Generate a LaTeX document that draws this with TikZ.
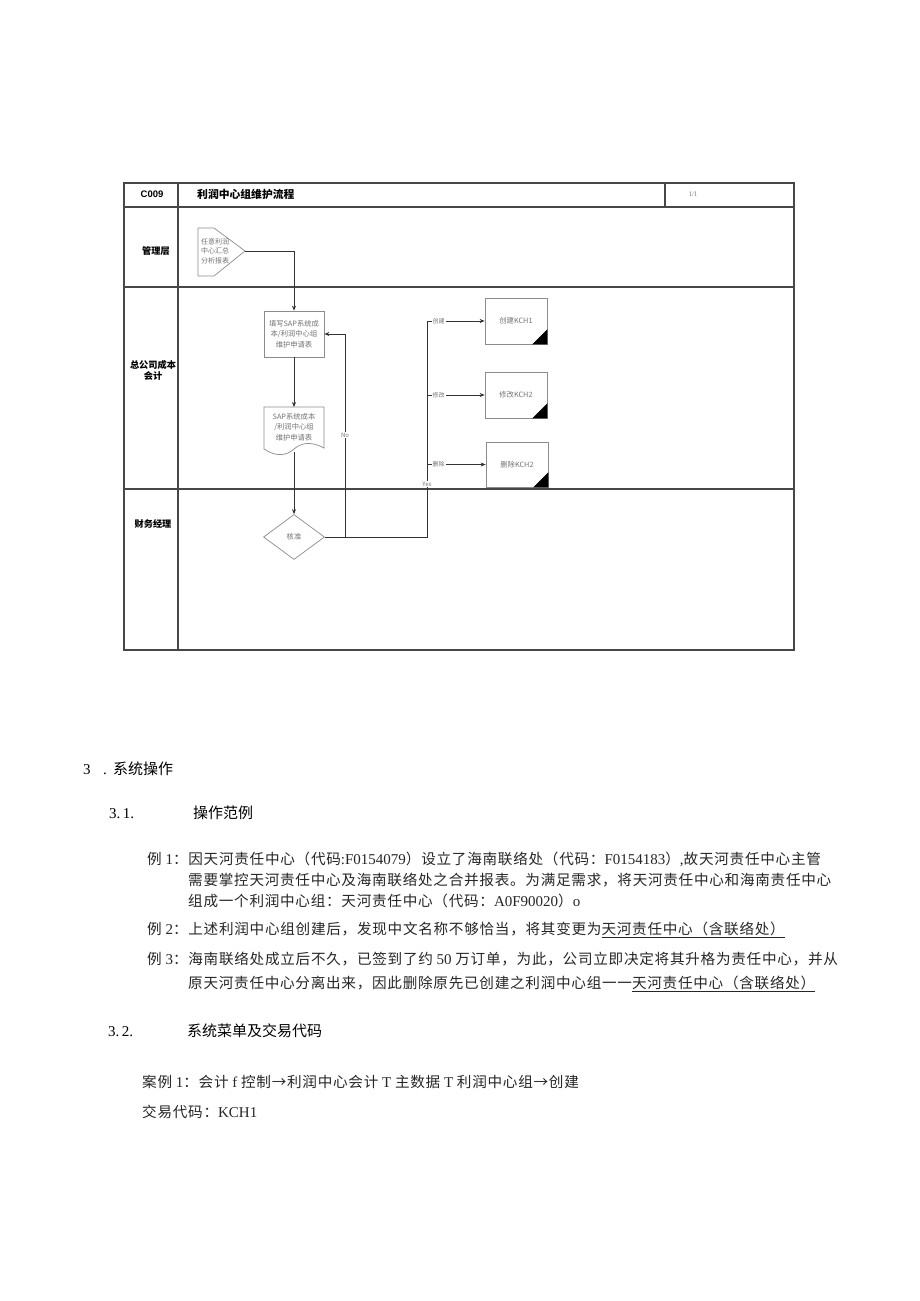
\documentclass[tikz,border=0pt]{standalone}
\usepackage{fontspec}
\setmainfont{Liberation Serif}
\newfontfamily\cjk{Noto Sans CJK SC}
\newfontfamily\cjkbody[LetterSpace=5]{Noto Sans CJK SC}
\newfontfamily\latf{Liberation Serif}
\newfontfamily\latsans{Liberation Sans}
\newcommand\ltn[1]{{\latf\fontsize{15}{17}\selectfont #1}}
\usetikzlibrary{shapes.geometric,arrows.meta}
\tikzset{
  frameline/.style={draw=black!72, line width=1.1pt},
  lanelbl/.style={font=\cjk\bfseries\fontsize{9.2}{11}\selectfont, align=center, text=black},
  shapeline/.style={draw=black!45, line width=0.7pt},
  proc/.style={shapeline, minimum width=60pt, minimum height=46pt, inner sep=1pt,
     font=\cjk\fontsize{7.3}{10.3}\selectfont, text=black!55, align=center},
  kbox/.style={proc, minimum width=62pt, minimum height=46pt},
  smalltxt/.style={font=\cjk\fontsize{7}{9.6}\selectfont, text=black!55, align=center, inner sep=0pt},
  conn/.style={draw=black!80, line width=0.8pt},
  arr/.style={conn, -{Stealth[length=5pt,width=4pt]}},
  tag/.style={font=\cjk\fontsize{6}{7}\selectfont, text=black!55, fill=white, inner sep=1pt},
  body/.style={font=\cjkbody\fontsize{14.6}{17}\selectfont, anchor=base west, inner sep=0pt, text=black!85},
  head/.style={font=\cjk\fontsize{15}{17}\selectfont, anchor=base west, inner sep=0pt, text=black}
}
\begin{document}
\begin{tikzpicture}[x=1pt,y=-1pt]
\useasboundingbox[fill=white] (0,0) rectangle (920,1301);

% ---------- frame ----------
\draw[frameline] (124,183) rectangle (794,650);
\draw[frameline] (124,207) -- (794,207);
\draw[frameline] (178,183) -- (178,650);
\draw[frameline] (665,183) -- (665,207);
\draw[frameline] (124,287) -- (794,287);
\draw[frameline] (124,489) -- (794,489);

\node[font=\latsans\bfseries\fontsize{9.5}{10}\selectfont] (code) at (152,194) {C009};
\node[font=\cjk\bfseries\fontsize{10.8}{12}\selectfont, anchor=west, inner sep=0pt] (title) at (197,194) {利润中心组维护流程};
\node[font=\fontsize{7}{8}\selectfont, text=black!55] (page) at (693,194) {1/1};

\node[lanelbl] (lane1) at (156,251) {管理层};
\node[lanelbl] (lane2) at (153,370) {总公司成本\\会计};
\node[lanelbl] (lane3) at (153,524) {财务经理};

% ---------- shapes ----------
\draw[shapeline] (198,228) -- (214,228) -- (245,251) -- (214,276) -- (198,276) -- cycle;
\node[smalltxt] (src) at (215,251) {任意利润\\中心汇总\\分析报表};
\coordinate (srcTip) at (245,251);

\node[proc] (fillin) at (294,334) {填写SAP系统成\\本/利润中心组\\维护申请表};

\draw[shapeline] (264,407) -- (324,407) -- (324,448)
   .. controls (309,440) and (300,444) .. (294,449)
   .. controls (286,456) and (276,457) .. (264,449) -- cycle;
\node[smalltxt, font=\cjk\fontsize{7.3}{10.3}\selectfont] (doc) at (294,427) {SAP系统成本\\/利润中心组\\维护申请表};
\coordinate (docTop) at (294,407);
\coordinate (docBot) at (294,452);

\node[diamond, shapeline, minimum width=61pt, minimum height=45pt, inner sep=0pt,
      font=\cjk\fontsize{7.3}{9}\selectfont, text=black!55] (ok) at (294,537) {核准};

\node[kbox] (k1) at (516,321) {创建KCH1};
\node[kbox] (k2) at (516,395) {修改KCH2};
\node[kbox, minimum height=45pt] (k3) at (517,464.5) {删除KCH2};
\foreach \k in {k1,k2,k3}{
  \fill[black] (\k.south east) -- ++(0,-15) -- ++(-15,15) -- cycle;
}

% ---------- connectors ----------
\coordinate (yj) at (427,537);
\coordinate (nj) at (345,537);
\coordinate (b1) at (427,321);
\coordinate (b2) at (427,395);
\coordinate (b3) at (427,464.5);

\draw[arr] (srcTip) -| (fillin.north);
\draw[arr] (fillin.south) -- (docTop);
\draw[arr] (docBot) -- (ok.north);
\draw[conn] (ok.east) -- (yj) -- (b1);
\draw[arr] (nj) |- (fillin.east);
\draw[arr] (b1) -- node[tag, pos=0.2] {创建} (k1.west);
\draw[arr] (b2) -- node[tag, pos=0.2] {修改} (k2.west);
\draw[arr] (b3) -- node[tag, pos=0.2] {删除} (k3.west);
\node[tag] (nolbl) at (345,435) {No};
\node[tag] (yeslbl) at (427,484) {Yes};

% ---------- text section ----------
\node[head] (h3n) at (83,774) {\ltn{3}};
\node[head] (h3) at (103,774) {\makebox[10pt][l]{\ltn{.}}系统操作};

\node[head] (h31n) at (109,818) {\ltn{3.\,1.}};
\node[head] (h31) at (193,818) {操作范例};

\node[body] (l1) at (147,864) {例\ltn{ 1}：因天河责任中心（代码\ltn{:F0154079}）设立了海南联络处（代码：\ltn{F0154183}）\ltn{,}故天河责任中心主管};
\node[body] (l2) at (188,885) {需要掌控天河责任中心及海南联络处之合并报表。为满足需求，将天河责任中心和海南责任中心};
\node[body] (l3) at (188,906) {组成一个利润中心组：天河责任中心（代码：\ltn{A0F90020}）\ltn{o}};
\node[body] (l4) at (147,934) {例\ltn{ 2}：上述利润中心组创建后，发现中文名称不够恰当，将其变更为\underline{天河责任中心（含联络处）}};
\node[body] (l5) at (147,964) {例\ltn{ 3}：海南联络处成立后不久，已签到了约\ltn{ 50 }万订单，为此，公司立即决定将其升格为责任中心，并从};
\node[body] (l6) at (188,988) {原天河责任中心分离出来，因此删除原先已创建之利润中心组一一\underline{天河责任中心（含联络处）}};

\node[head] (h32n) at (108,1036) {\ltn{3.\,2.}};
\node[head] (h32) at (187,1036) {系统菜单及交易代码};

\node[body] (c1) at (142,1087) {案例\ltn{ 1}：会计\ltn{ f }控制→利润中心会计\ltn{ T }主数据\ltn{ T }利润中心组→创建};
\node[body] (c2) at (142,1117) {交易代码：\ltn{KCH1}};
\end{tikzpicture}
\end{document}
